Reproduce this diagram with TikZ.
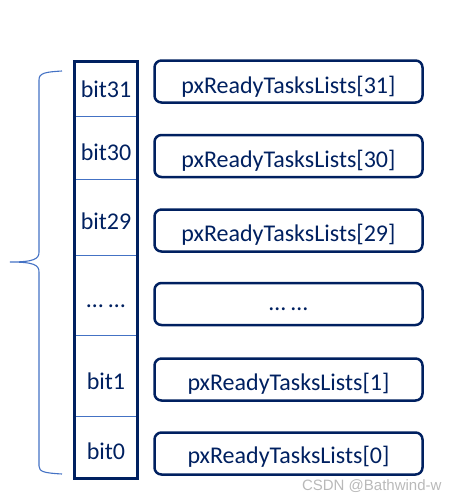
\documentclass[tikz,border=0pt]{standalone}
\usepackage{fontspec}
\setmainfont{Carlito}
\newfontfamily\markfont{Liberation Sans}
\definecolor{navy}{RGB}{0,32,96}
\definecolor{lineblue}{RGB}{68,114,196}
\definecolor{markgray}{RGB}{185,185,185}

\begin{document}
\begin{tikzpicture}[
  x=1pt,
  y=-1pt,
  every node/.style={font=\fontsize{24}{28}\selectfont, text=navy},
  listbox/.style={draw=navy, line width=2.5pt, rounded corners=7pt,
    minimum width=268pt, minimum height=42pt, inner sep=0pt},
  bitlabel/.style={anchor=base}
]
\useasboundingbox (0,0) rectangle (461,501);
% brace
\draw[lineblue, line width=1.1pt]
  (62,71) .. controls (45,72) and (39,73) .. (39,80) -- (39,252)
  .. controls (39,259) and (34,262) .. (10,262)
  .. controls (34,262) and (39,265) .. (39,272) -- (39,466)
  .. controls (39,472) and (45,473) .. (62,474);
% bit column
\draw[lineblue, line width=0.9pt] (75,116) -- (137,116);
\draw[lineblue, line width=0.9pt] (75,179) -- (137,179);
\draw[lineblue, line width=0.9pt] (75,255) -- (137,255);
\draw[lineblue, line width=0.9pt] (75,335) -- (137,335);
\draw[lineblue, line width=0.9pt] (75,416) -- (137,416);
\node[draw=navy, line width=3.4pt, minimum width=62.5pt, minimum height=416.6pt,
  inner sep=0pt] (col) at (106,270) {};
\node[bitlabel] (b31) at (106,97) {bit31};
\node[bitlabel] (b30) at (106,160) {bit30};
\node[bitlabel] (b29) at (106,229) {bit29};
\node[bitlabel] (bdots) at (106,307) {… …};
\node[bitlabel] (b1) at (106,389) {bit1};
\node[bitlabel] (b0) at (106,459) {bit0};
% ready lists
\node[listbox] (l31) at (288.5,81.5) {};
\node[listbox] (l30) at (288.5,156) {};
\node[listbox] (l29) at (288.5,230.5) {};
\node[listbox] (ldots) at (288.5,304) {};
\node[listbox] (l1) at (288.5,379.5) {};
\node[listbox] (l0) at (288.5,453.5) {};
\node[bitlabel] at (288.5,93) {pxReadyTasksLists[31]};
\node[bitlabel] at (288.5,167) {pxReadyTasksLists[30]};
\node[bitlabel] at (288.5,241) {pxReadyTasksLists[29]};
\node[bitlabel] at (288.5,310) {… …};
\node[bitlabel] at (288.5,390) {pxReadyTasksLists[1]};
\node[bitlabel] at (288.5,463) {pxReadyTasksLists[0]};
\node[font=\markfont\fontsize{15}{18}\selectfont, text=markgray, anchor=east]
  (mark) at (445,486) {CSDN @Bathwind-w};
\end{tikzpicture}
\end{document}
